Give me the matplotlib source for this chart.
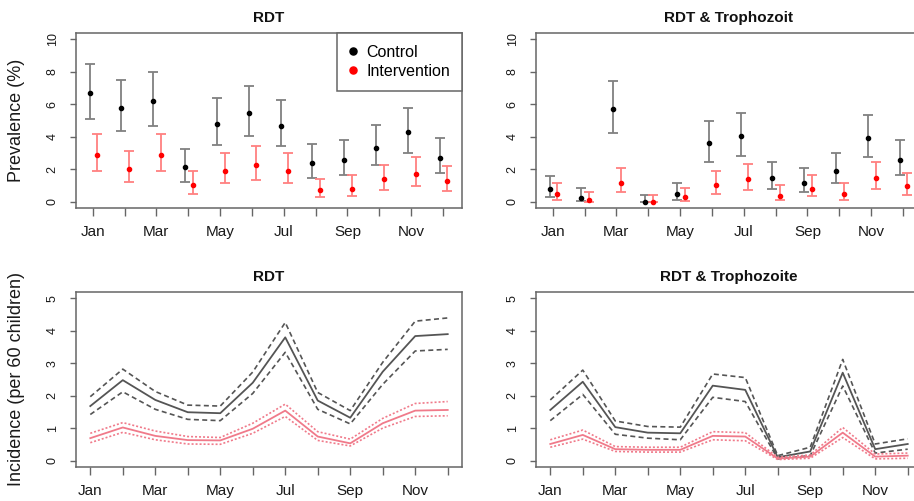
import matplotlib
matplotlib.use("Agg")
import matplotlib.pyplot as plt
import numpy as np

plt.rcParams['font.family'] = ['Liberation Sans', 'DejaVu Sans']

months = list(range(1, 13))
month_labels = ["Jan", "", "Mar", "", "May", "", "Jul", "", "Sep", "", "Nov", ""]

# Prevalence (%) - RDT
rdt_ctrl = [6.69, 5.78, 6.21, 2.16, 4.77, 5.47, 4.69, 2.37, 2.57, 3.33, 4.26, 2.67]
rdt_ctrl_lo = [5.10, 4.36, 4.69, 1.23, 3.48, 4.05, 3.42, 1.44, 1.63, 2.26, 3.00, 1.75]
rdt_ctrl_hi = [8.50, 7.51, 7.98, 3.27, 6.38, 7.10, 6.26, 3.52, 3.79, 4.71, 5.76, 3.93]
rdt_int = [2.90, 2.02, 2.90, 1.03, 1.89, 2.24, 1.89, 0.70, 0.78, 1.38, 1.69, 1.26]
rdt_int_lo = [1.91, 1.19, 1.91, 0.47, 1.13, 1.34, 1.13, 0.25, 0.31, 0.70, 0.95, 0.62]
rdt_int_hi = [4.18, 3.13, 4.18, 1.87, 3.00, 3.42, 3.00, 1.42, 1.65, 2.28, 2.76, 2.20]

# Prevalence (%) - RDT & Trophozoit
tro_ctrl = [0.78, 0.23, 5.70, 0.00, 0.45, 3.60, 4.03, 1.46, 1.15, 1.89, 3.91, 2.59]
tro_ctrl_lo = [0.29, 0.04, 4.24, 0.00, 0.10, 2.43, 2.82, 0.78, 0.56, 1.13, 2.76, 1.65]
tro_ctrl_hi = [1.60, 0.82, 7.41, 0.41, 1.13, 4.98, 5.49, 2.43, 2.04, 3.00, 5.37, 3.79]
tro_int = [0.45, 0.12, 1.15, 0.00, 0.25, 1.03, 1.38, 0.35, 0.78, 0.45, 1.46, 0.93]
tro_int_lo = [0.10, 0.00, 0.56, 0.00, 0.04, 0.47, 0.70, 0.08, 0.31, 0.10, 0.78, 0.39]
tro_int_hi = [1.13, 0.60, 2.06, 0.41, 0.82, 1.87, 2.30, 0.99, 1.63, 1.13, 2.41, 1.75]

# Incidence (per 60 children) - RDT
inc_rdt_ctrl = [1.68, 2.48, 1.87, 1.49, 1.46, 2.40, 3.80, 1.85, 1.32, 2.74, 3.84, 3.90]
inc_rdt_ctrl_hi = [1.97, 2.82, 2.13, 1.71, 1.68, 2.73, 4.26, 2.10, 1.54, 3.03, 4.30, 4.40]
inc_rdt_ctrl_lo = [1.42, 2.12, 1.58, 1.27, 1.23, 2.07, 3.34, 1.58, 1.13, 2.35, 3.38, 3.43]
inc_rdt_int = [0.69, 1.02, 0.76, 0.63, 0.62, 0.98, 1.54, 0.74, 0.53, 1.15, 1.54, 1.56]
inc_rdt_int_hi = [0.84, 1.17, 0.91, 0.74, 0.71, 1.15, 1.74, 0.89, 0.66, 1.30, 1.76, 1.82]
inc_rdt_int_lo = [0.55, 0.87, 0.64, 0.51, 0.50, 0.84, 1.36, 0.62, 0.45, 1.00, 1.36, 1.38]

# Incidence (per 60 children) - RDT & Trophozoite
inc_tro_ctrl = [1.56, 2.43, 1.03, 0.86, 0.84, 2.31, 2.18, 0.10, 0.28, 2.71, 0.35, 0.51]
inc_tro_ctrl_hi = [1.87, 2.79, 1.22, 1.05, 1.03, 2.67, 2.56, 0.15, 0.41, 3.12, 0.51, 0.67]
inc_tro_ctrl_lo = [1.23, 2.04, 0.81, 0.69, 0.64, 1.95, 1.82, 0.05, 0.15, 2.30, 0.23, 0.35]
inc_tro_int = [0.51, 0.79, 0.35, 0.33, 0.33, 0.76, 0.74, 0.06, 0.12, 0.86, 0.12, 0.15]
inc_tro_int_hi = [0.64, 0.94, 0.43, 0.41, 0.41, 0.89, 0.86, 0.10, 0.17, 1.02, 0.20, 0.23]
inc_tro_int_lo = [0.41, 0.66, 0.28, 0.26, 0.26, 0.64, 0.61, 0.03, 0.07, 0.71, 0.05, 0.07]

W, H = 914, 501
fig = plt.figure(figsize=(W / 100, H / 100), dpi=100)

def pos(l, t, w, h):
    return [l / W, (H - t - h) / H, w / W, h / H]

SPINE = '#666666'
TXT = '#1a1a1a'

def style(ax, ylim, yticks, xlim, title):
    ax.set_xlim(*xlim)
    ax.set_ylim(*ylim)
    for s in ax.spines.values():
        s.set_color(SPINE)
        s.set_linewidth(1.1)
    ax.set_xticks(months)
    ax.set_xticklabels(month_labels, fontsize=11, color=TXT)
    ax.set_yticks(yticks)
    ax.set_yticklabels([str(v) for v in yticks], fontsize=9, color=TXT,
                       rotation=90, va='center')
    ax.tick_params(axis='x', length=5.5, width=1.0, color=SPINE, pad=6.5)
    ax.tick_params(axis='y', length=4.5, width=1.0, color=SPINE, pad=8)
    ax.set_title(title, fontsize=11, fontweight='bold', pad=8, color='#111111')

top_xlim = (0.476, 12.596)
bot_xlim = (0.56, 12.44)
off_c, off_i = -0.1, 0.14

def prev_panel(ax, c, clo, chi, i, ilo, ihi, title, legend=False):
    x = np.array(months)
    c = np.array(c); i = np.array(i)
    ax.errorbar(x + off_c, c, yerr=[c - np.array(clo), np.array(chi) - c],
                fmt='none', ecolor='#808080', elinewidth=1.3, capsize=3.6, capthick=1.3)
    ax.errorbar(x + off_i, i, yerr=[i - np.array(ilo), np.array(ihi) - i],
                fmt='none', ecolor='#ff8080', elinewidth=1.3, capsize=3.6, capthick=1.3)
    ax.plot(x + off_c, c, 'o', color='black', ms=3.0, label='Control')
    ax.plot(x + off_i, i, 'o', color='red', ms=3.0, label='Intervention')
    style(ax, (-0.4, 10.4), [0, 2, 4, 6, 8, 10], top_xlim, title)
    if legend:
        leg = ax.legend(loc='upper right', borderaxespad=0, fancybox=False,
                        edgecolor=SPINE, framealpha=1, fontsize=11.5,
                        handlelength=0.6, handletextpad=0.5, borderpad=0.75,
                        labelspacing=0.25, markerscale=1.7)
        leg.get_frame().set_linewidth(1.1)

def inc_panel(ax, c, chi, clo, i, ihi, ilo, title):
    x = months
    gc = '#555555'
    pc = '#f07a8a'
    ax.plot(x, c, '-', color=gc, lw=1.3)
    ax.plot(x, chi, color=gc, lw=1.2, dashes=(3, 2))
    ax.plot(x, clo, color=gc, lw=1.2, dashes=(3, 2))
    ax.plot(x, i, '-', color=pc, lw=1.3)
    ax.plot(x, ihi, color=pc, lw=1.2, dashes=(1.2, 1.2))
    ax.plot(x, ilo, color=pc, lw=1.2, dashes=(1.2, 1.2))
    style(ax, (-0.2, 5.2), [0, 1, 2, 3, 4, 5], bot_xlim, title)

ax1 = fig.add_axes(pos(76, 33, 386, 175))
prev_panel(ax1, rdt_ctrl, rdt_ctrl_lo, rdt_ctrl_hi, rdt_int, rdt_int_lo, rdt_int_hi,
           'RDT', legend=True)
ax1.set_ylabel('Prevalence (%)', fontsize=13, color=TXT)
ax1.yaxis.set_label_coords(-0.132, 0.5)

ax2 = fig.add_axes(pos(536, 33, 386, 175))
prev_panel(ax2, tro_ctrl, tro_ctrl_lo, tro_ctrl_hi, tro_int, tro_int_lo, tro_int_hi,
           'RDT & Trophozoit')

ax3 = fig.add_axes(pos(76, 292, 386, 175))
inc_panel(ax3, inc_rdt_ctrl, inc_rdt_ctrl_hi, inc_rdt_ctrl_lo,
          inc_rdt_int, inc_rdt_int_hi, inc_rdt_int_lo, 'RDT')
ax3.set_ylabel('Incidence (per 60 children)', fontsize=13, color=TXT)
ax3.yaxis.set_label_coords(-0.132, 0.5)

ax4 = fig.add_axes(pos(536, 292, 386, 175))
inc_panel(ax4, inc_tro_ctrl, inc_tro_ctrl_hi, inc_tro_ctrl_lo,
          inc_tro_int, inc_tro_int_hi, inc_tro_int_lo, 'RDT & Trophozoite')

fig.savefig('out.png', dpi=100)
